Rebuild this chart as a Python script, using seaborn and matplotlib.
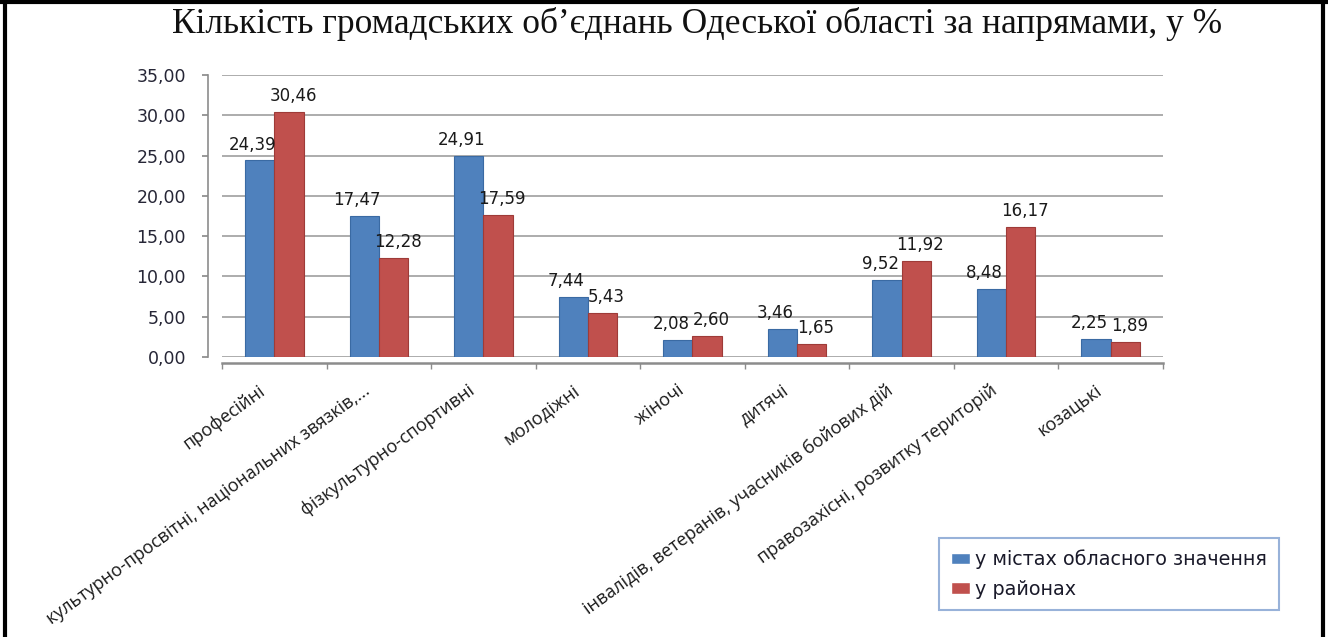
import matplotlib
matplotlib.use('Agg')
import matplotlib.pyplot as plt
import matplotlib.transforms as mtransforms
import seaborn as sns
import pandas as pd
from matplotlib.lines import Line2D

categories = [
    'професійні',
    'культурно-просвітні, національних звязків,...',
    'фізкультурно-спортивні',
    'молодіжні',
    'жіночі',
    'дитячі',
    'інвалідів, ветеранів, учасників бойових дій',
    'правозахісні, розвитку територій',
    'козацькі',
]
city = [24.39, 17.47, 24.91, 7.44, 2.08, 3.46, 9.52, 8.48, 2.25]
district = [30.46, 12.28, 17.59, 5.43, 2.60, 1.65, 11.92, 16.17, 1.89]
series_names = ['у містах обласного значення', 'у районах']
yticks = [0, 5, 10, 15, 20, 25, 30, 35]
title = 'Кількість громадських об’єднань Одеської області за напрямами, у %'

sns.set_theme(style='white')
plt.rcParams['font.family'] = ['DejaVu Sans']

df = pd.DataFrame({
    'cat': categories * 2,
    'val': city + district,
    'series': [series_names[0]] * len(categories) + [series_names[1]] * len(categories),
})

W, H = 1328, 637
fig = plt.figure(figsize=(W / 100, H / 100), dpi=100)
ax = fig.add_axes([222 / W, 1 - 357 / H, (1163 - 222) / W, (357 - 75) / H])

sns.barplot(data=df, x='cat', y='val', hue='series', order=categories,
            hue_order=series_names, palette=['#4F81BD', '#C0504D'],
            width=0.56, gap=0, saturation=1, ax=ax, legend=True)

for cont, col, dx in zip(ax.containers, ['#3a6aa3', '#9e3b38'], [-5, 3]):
    for b in cont:
        b.set_edgecolor(col)
        b.set_linewidth(0.8)
    vals = [b.get_height() for b in cont]
    anns = ax.bar_label(cont, labels=[f'{v:.2f}'.replace('.', ',') for v in vals],
                        padding=5, fontsize=12, color='#1a1a1a')
    for a in anns:
        a.xyann = (dx, 5)

ax.set_ylim(0, 35)
ax.set_xlim(-0.5, len(categories) - 0.5)
ax.set_yticks(yticks)
ax.set_yticklabels([f'{v:.2f}'.replace('.', ',') for v in yticks])
ax.set_xticks(range(len(categories)))
ax.set_xticks([i - 0.5 for i in range(len(categories) + 1)], minor=True)
ax.tick_params(axis='x', which='major', length=0, labelbottom=False)
ax.tick_params(axis='x', which='minor', length=4, color='#8c8c8c', bottom=True)
ax.tick_params(axis='y', length=4, color='#8c8c8c', left=True, pad=12,
               labelsize=12.5, labelcolor='#262636')
ax.set_xlabel('')
ax.set_ylabel('')

# rotated category labels, anchored at their upper-right end
lab_off = mtransforms.ScaledTranslation(-16 / 100, -24 / 100, fig.dpi_scale_trans)
for i, name in enumerate(categories):
    ax.text(i, 0, name, transform=ax.get_xaxis_transform() + lab_off,
            rotation=36, rotation_mode='anchor', ha='right', va='top',
            fontsize=13, color='#1a1a1a', family=['Open Sans', 'DejaVu Sans'],
            clip_on=False)

ax.yaxis.grid(True, color='#a6a6a6', linewidth=1.3)
ax.set_axisbelow(True)
for s in ['top', 'right']:
    ax.spines[s].set_visible(False)
ax.spines['left'].set_position(('outward', 10))
ax.spines['bottom'].set_position(('outward', 4))
ax.spines['left'].set_color('#8c8c8c')
ax.spines['bottom'].set_color('#8c8c8c')
ax.spines['left'].set_linewidth(1.2)
ax.spines['bottom'].set_linewidth(1.8)

leg = ax.legend(loc='upper left', bbox_to_anchor=(939 / W, 1 - 538 / H),
                bbox_transform=fig.transFigure, frameon=True, fancybox=False,
                fontsize=13.8, handlelength=1.0, handleheight=0.55,
                borderpad=0.6, labelspacing=0.55, handletextpad=0.3,
                borderaxespad=0)
leg.get_frame().set_edgecolor('#7f9fd0')
leg.get_frame().set_linewidth(1.5)
for t in leg.get_texts():
    t.set_color('#1a1a2a')

fig.text(0.525, 0.962, title, ha='center', va='center', fontsize=25.5,
         family=['Liberation Serif', 'DejaVu Serif'], color='#111111')

# page border: left, top, right
for xs, ys in [([5 / W, 5 / W], [0, 1]), ([0, 1], [1 - 2 / H, 1 - 2 / H]),
               ([1 - 5 / W, 1 - 5 / W], [0, 1])]:
    fig.add_artist(Line2D(xs, ys, transform=fig.transFigure, color='black',
                          linewidth=3))

fig.savefig('out.png', dpi=100)
